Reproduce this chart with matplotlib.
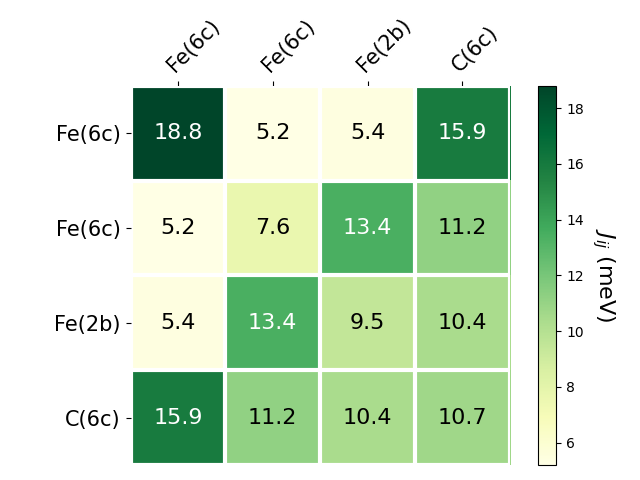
import numpy as np
import matplotlib

matplotlib.use('Agg')
import matplotlib.pyplot as plt

# 原子位点标签
sites = ['Fe(6c)', 'Fe(6c)', 'Fe(2b)', 'C(6c)']

# 交换耦合 J_ij (meV)
row0 = [18.8, 5.2, 5.4, 15.9]
row1 = [5.2, 7.6, 13.4, 11.2]
row2 = [5.4, 13.4, 9.5, 10.4]
row3 = [15.9, 11.2, 10.4, 10.7]

jij = np.array([row0, row1, row2, row3])

fig, ax = plt.subplots(figsize=(6.4, 4.8), dpi=100)
im = ax.imshow(jij, cmap='YlGn')

cbar = ax.figure.colorbar(im, ax=ax)
cbar.ax.set_ylabel(r'$J_{ij}$ (meV)', rotation=-90, va='bottom', fontsize=16)

ax.set_xticks(np.arange(len(sites)))
ax.set_yticks(np.arange(len(sites)))
ax.set_xticklabels(sites, fontsize=15)
ax.set_yticklabels(sites, fontsize=15)
ax.tick_params(top=True, bottom=False, labeltop=True, labelbottom=False)
plt.setp(ax.get_xticklabels(), rotation=45, ha='left', rotation_mode='anchor')

for edge, spine in ax.spines.items():
    spine.set_visible(False)

ax.set_xticks(np.arange(jij.shape[1] + 1) - .5, minor=True)
ax.set_yticks(np.arange(jij.shape[0] + 1) - .5, minor=True)
ax.grid(which='minor', color='w', linestyle='-', linewidth=3)
ax.tick_params(which='minor', bottom=False, left=False, top=False)

# 深色格子用白字
threshold = im.norm(jij.max()) / 2.
for i in range(jij.shape[0]):
    for j in range(jij.shape[1]):
        color = 'white' if im.norm(jij[i, j]) > threshold else 'black'
        ax.text(j, i, f'{jij[i, j]:.1f}', ha='center', va='center',
                color=color, fontsize=16)

fig.tight_layout()
plt.savefig('out.png')
